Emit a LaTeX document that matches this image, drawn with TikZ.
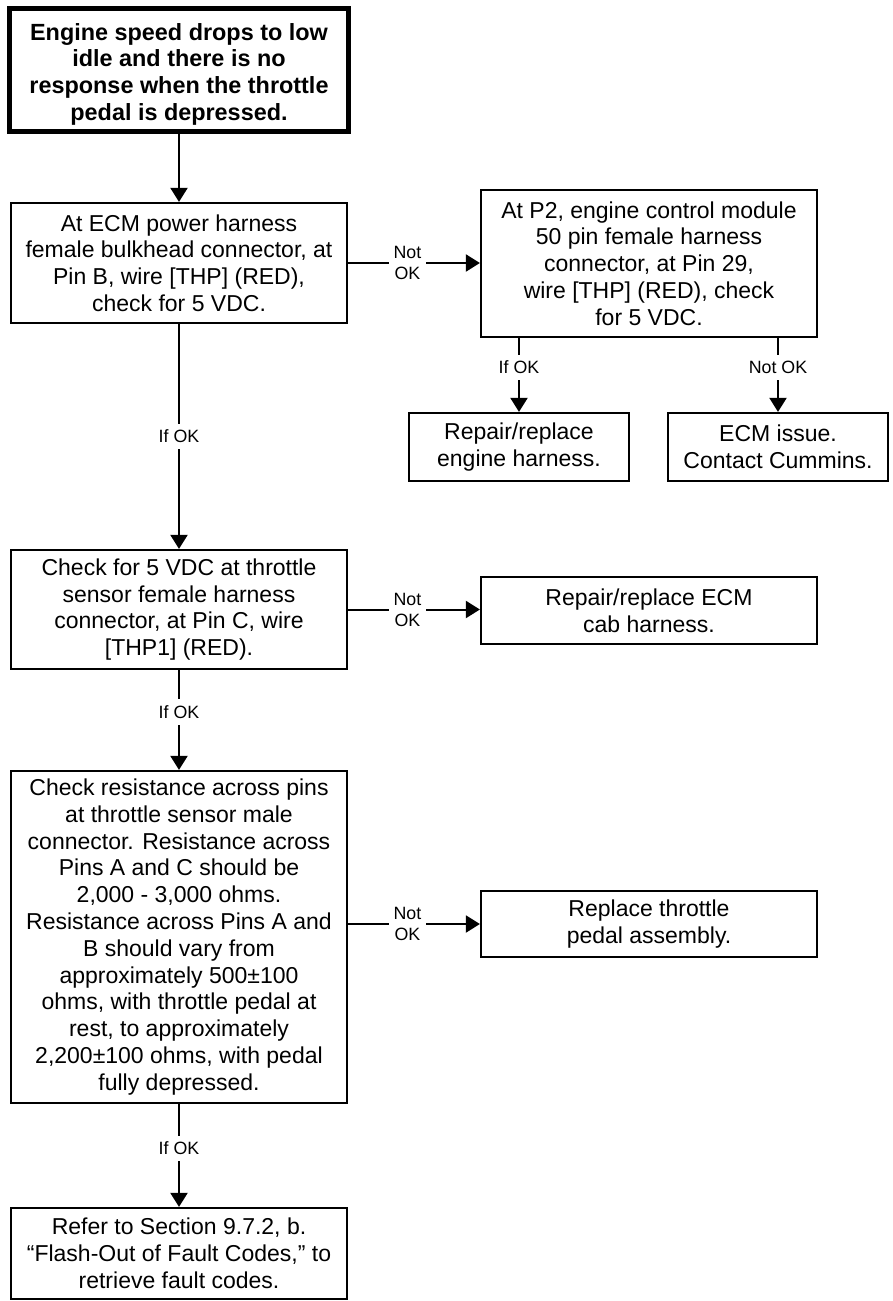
\documentclass[tikz,border=0pt]{standalone}
\usepackage{fontspec}
\setmainfont{Liberation Sans}
\usetikzlibrary{arrows.meta}

\tikzset{
  stepbox/.style={draw=black, line width=2.2pt, rectangle, inner sep=0pt,
    align=center, font=\fontsize{23}{26.8}\selectfont},
  startbox/.style={stepbox, line width=5pt, font=\bfseries\fontsize{23.4}{26.8}\selectfont},
  flow/.style={line width=2pt, -{Triangle[width=17pt,length=14pt]}},
  cond/.style={fill=white, align=center, inner xsep=5pt, inner ysep=6pt,
    font=\fontsize{17.8}{21}\selectfont}
}

\begin{document}
\begin{tikzpicture}[x=1pt,y=-1pt]
\useasboundingbox (0,0) rectangle (893,1301);

% main column; the heading text sits a little below the box centre
\node[startbox, minimum width=339pt, minimum height=123pt] (start) at (179,70)
  {\raisebox{-5pt}[\height][\depth]{\begin{tabular}{@{}c@{}}Engine speed drops to low\\idle and there is no\\response when the throttle\\pedal is depressed.\end{tabular}}};
\node[stepbox, minimum width=336pt, minimum height=120pt] (pinb) at (179,263)
  {At ECM power harness\\female bulkhead connector, at\\Pin B, wire [THP] (RED),\\check for 5 VDC.};
\node[stepbox, minimum width=336pt, minimum height=119pt] (pinc) at (179,609.5)
  {Check for 5 VDC at throttle\\sensor female harness\\connector, at Pin C, wire\\{}[THP1] (RED).};
\node[stepbox, minimum width=336pt, minimum height=332pt] (resist) at (179,937)
  {Check resistance across pins\\at throttle sensor male\\connector. Resistance across\\Pins A and C should be\\2,000 - 3,000 ohms.\\Resistance across Pins A and\\B should vary from\\approximately 500±100\\ohms, with throttle pedal at\\rest, to approximately\\2,200±100 ohms, with pedal\\fully depressed.};
\node[stepbox, minimum width=336pt, minimum height=91pt] (refer) at (179,1253.5)
  {Refer to Section 9.7.2, b.\\“Flash-Out of Fault Codes,” to\\retrieve fault codes.};

% right-hand outcomes
\node[stepbox, minimum width=336pt, minimum height=147pt] (ptwo) at (649,263.5)
  {At P2, engine control module\\50 pin female harness\\connector, at Pin 29,\\wire [THP] (RED), check\\for 5 VDC.};
\node[stepbox, minimum width=220pt, minimum height=68pt] (engharn) at (519,447)
  {Repair/replace\\engine harness.};
\node[stepbox, minimum width=220pt, minimum height=68pt] (ecmissue) at (778,447)
  {ECM issue.\\Contact Cummins.};
\node[stepbox, minimum width=336pt, minimum height=67pt] (cabharn) at (649,610.5)
  {Repair/replace ECM\\cab harness.};
\node[stepbox, minimum width=336pt, minimum height=66pt] (pedal) at (649,924)
  {Replace throttle\\pedal assembly.};

% connectors
\draw[flow] (start) -- (pinb);
\draw[flow] (pinb) -- node[cond, pos=0.45] {Not\\OK} (ptwo.west |- pinb);
\draw[flow] (pinb) -- node[cond, pos=0.5] {If OK} (pinc);
\draw[flow] (engharn.north |- ptwo.south) -- node[cond, pos=0.4] {If OK} (engharn.north);
\draw[flow] (ecmissue.north |- ptwo.south) -- node[cond, pos=0.4] {Not OK} (ecmissue.north);
\draw[flow] (pinc.east) -- node[cond, pos=0.45] {Not\\OK} (cabharn.west |- pinc.east);
\draw[flow] (pinc) -- node[cond, pos=0.42] {If OK} (resist);
\draw[flow] (resist.east |- pedal.west) -- node[cond, pos=0.45] {Not\\OK} (pedal.west);
\draw[flow] (resist) -- node[cond, pos=0.43] {If OK} (refer);
\end{tikzpicture}
\end{document}
